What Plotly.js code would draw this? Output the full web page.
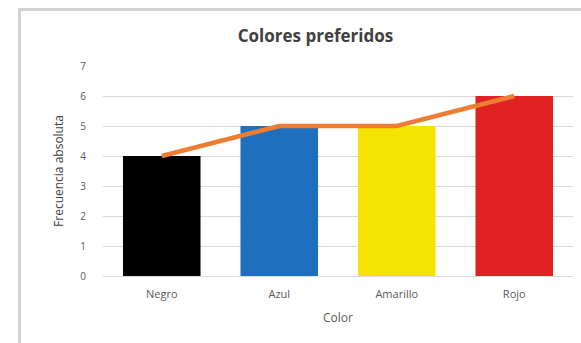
<!DOCTYPE html>
<html>
<head>
<meta charset="utf-8">
<script src="https://cdn.plot.ly/plotly-3.0.1.min.js"></script>
<style>
html,body{margin:0;padding:0;background:#fff;width:581px;height:343px;overflow:hidden;}
#frame{position:absolute;left:18px;top:8px;width:580px;height:340px;border-left:3px solid #d2d2d2;border-top:3px solid #d2d2d2;}
#chart{position:absolute;left:0;top:0;width:581px;height:343px;}
</style>
</head>
<body>
<div id="frame"></div>
<div id="chart"></div>
<script>
const categories = ["Negro", "Azul", "Amarillo", "Rojo"];
const frecuencias = [4, 5, 5, 6];
const barColors = ["#000000", "#1f6fbf", "#f4e300", "#e02222"];
const yTicks = [0, 1, 2, 3, 4, 5, 6, 7];

const bars = {
  type: "bar",
  x: categories,
  y: frecuencias,
  marker: {color: barColors},
  width: 0.66,
  hoverinfo: "x+y",
  showlegend: false
};
const line = {
  type: "scatter",
  mode: "lines",
  x: categories,
  y: frecuencias,
  line: {color: "#ed7d31", width: 4.5},
  showlegend: false
};

const layout = {
  width: 581,
  height: 343,
  margin: {l: 103, r: 8, t: 66, b: 67},
  paper_bgcolor: "rgba(0,0,0,0)",
  plot_bgcolor: "rgba(0,0,0,0)",
  font: {family: "Open Sans, sans-serif", color: "#595959", size: 10},
  title: {
    text: "<b>Colores preferidos</b>",
    font: {family: "Open Sans, sans-serif", size: 17, color: "#404040"},
    x: 0.543, xanchor: "center",
    y: 0.895, yanchor: "middle"
  },
  xaxis: {
    type: "category",
    showgrid: false,
    showline: false,
    zeroline: false,
    ticks: "",
    ticklabelstandoff: 10,
    tickfont: {size: 11, color: "#595959"},
    title: {text: "Color", font: {size: 12, color: "#595959"}, standoff: 13},
    automargin: false
  },
  yaxis: {
    range: [0, 7],
    tickvals: yTicks,
    ticktext: yTicks.map(String),
    showgrid: true,
    gridcolor: "#d9d9d9",
    gridwidth: 1,
    zeroline: true,
    zerolinecolor: "#d9d9d9",
    showline: false,
    ticks: "",
    ticklabelstandoff: 16,
    tickfont: {size: 10, color: "#595959"},
    title: {text: "Frecuencia absoluta", font: {size: 12, color: "#404040"}, standoff: 14},
    automargin: false
  },
  bargap: 0.34
};

Plotly.newPlot("chart", [bars, line], layout, {displayModeBar: false, staticPlot: true});
</script>
</body>
</html>
